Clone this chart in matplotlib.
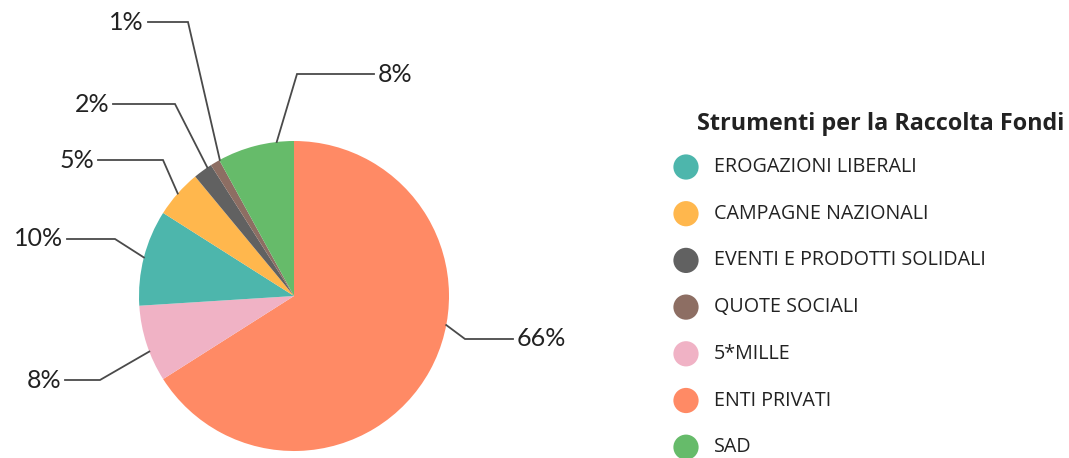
import matplotlib
matplotlib.use("Agg")
import matplotlib.pyplot as plt
import numpy as np

plt.rcParams["font.family"] = ["Lato", "DejaVu Sans"]

W, H = 1069, 458

# data, in legend order
categories = ["EROGAZIONI LIBERALI", "CAMPAGNE NAZIONALI", "EVENTI E PRODOTTI SOLIDALI",
              "QUOTE SOCIALI", "5*MILLE", "ENTI PRIVATI", "SAD"]
values = [10, 5, 2, 1, 8, 66, 8]
colors = ["#4DB6AC", "#FFB74D", "#616161", "#8D6E63", "#F0B2C5", "#FF8A65", "#66BB6A"]
title = "Strumenti per la Raccolta Fondi"

# order in which slices run clockwise from 12 o'clock
pie_order = [5, 4, 0, 1, 2, 3, 6]

# label layout (pixels): end of horizontal leader, its y, elbow x, start-angle nudge (deg)
lab_end_x = [67, 98, 113, 148, 65, 513, 374]
lab_y = [239, 160, 104, 22, 380, 339, 74]
elbow_x = [115, 163, 175, 188, 100, 465, 297]
nudge = [0, 0, 2, 2, -3, -18, 8]

cx, cy, r = 294, 296, 155

fig = plt.figure(figsize=(W / 100, H / 100), dpi=100)
ax = fig.add_axes([0, 0, 1, 1])

vals = [values[i] for i in pie_order]
cols = [colors[i] for i in pie_order]
ax.pie(vals, colors=cols, startangle=-90, counterclock=True, center=(cx, cy),
       radius=r, wedgeprops=dict(linewidth=0))
ax.set_xlim(0, W)
ax.set_ylim(H, 0)
ax.set_aspect("equal")
ax.axis("off")

# leader lines + percentage labels
total = float(sum(values))
cum = 0.0
for i in pie_order:
    mid = (cum + values[i] / 2) / total * 360
    cum += values[i]
    th = np.deg2rad(-90 + mid + nudge[i])
    sx, sy = cx + r * np.cos(th), cy + r * np.sin(th)
    ex, ey = elbow_x[i], lab_y[i]
    lx = lab_end_x[i]
    ax.plot([sx, ex, lx], [sy, ey, ey], color="#4a4a4a", lw=1.3, solid_joinstyle="miter")
    right = lx > cx
    ax.text(lx + (4 if right else -4), ey, f"{values[i]}%", fontsize=18, color="#222222",
            ha="left" if right else "right", va="center")

# legend
ax.text(697, 124, title, fontsize=16.8, fontweight="bold", color="#222222",
        ha="left", va="center", family=["Open Sans", "DejaVu Sans"])
for k, (name, c) in enumerate(zip(categories, colors)):
    y = 167 + k * 46.7
    ax.scatter([686], [y], s=330, color=c, edgecolors="none", zorder=3)
    ax.text(714, y, name, fontsize=14.2, color="#222222", ha="left", va="center",
            family=["Open Sans", "DejaVu Sans"])

fig.savefig("out.png", dpi=100)
